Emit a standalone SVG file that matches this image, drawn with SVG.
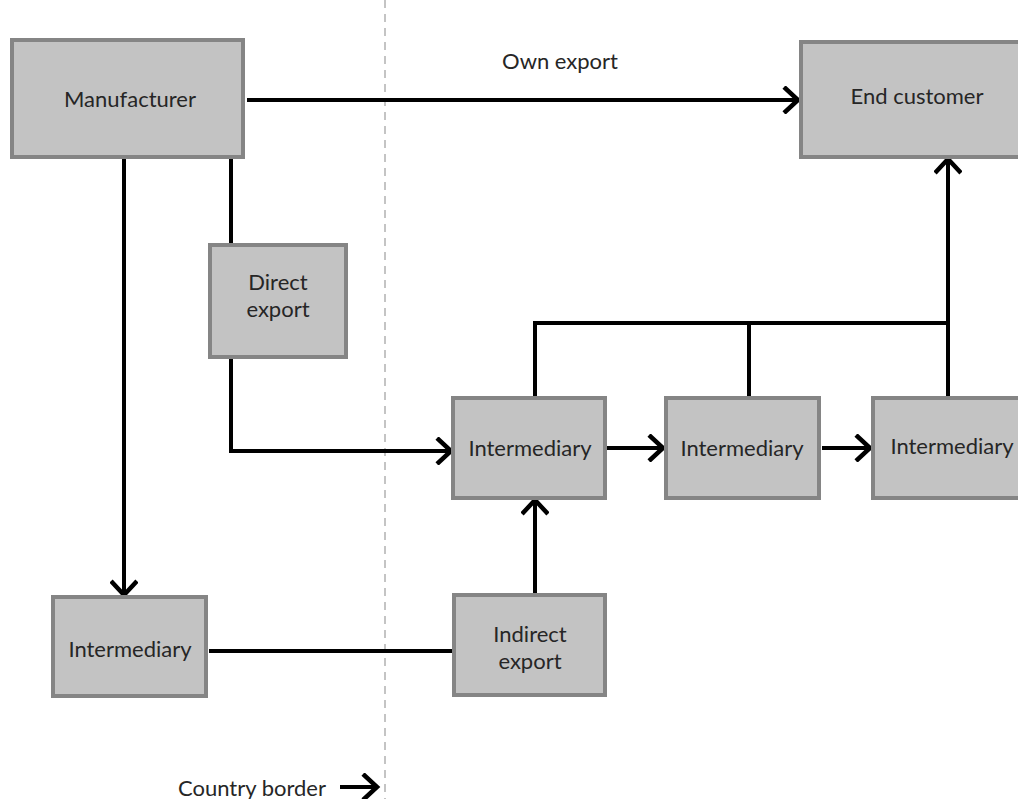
<svg xmlns="http://www.w3.org/2000/svg" width="1018" height="799" viewBox="0 0 1018 799">
<defs>
<style>
.box{fill:#c3c3c3;stroke:#858585;stroke-width:4}
.t{font-family:Lato,"Open Sans","Noto Sans",sans-serif;font-size:22px;fill:#262626;text-anchor:middle;dominant-baseline:central}
.c{fill:none;stroke:#000;stroke-width:4;stroke-linecap:butt;stroke-linejoin:miter}
.border{stroke:#c4c4c4;stroke-width:2;stroke-dasharray:8 6}
</style>
<marker id="ah" viewBox="-20 -14 24 28" markerWidth="24" markerHeight="28" refX="0" refY="0" orient="auto" markerUnits="userSpaceOnUse">
<path d="M-15,-13 L-1,0 L-15,13" fill="none" stroke="#000" stroke-width="4.5"/>
</marker>
</defs>
<rect width="1018" height="799" fill="#fff"/>
<line class="border" x1="385" y1="0" x2="385" y2="799"/>
<g id="connectors">
<line class="c" x1="247" y1="100" x2="799" y2="100" marker-end="url(#ah)"/>
<line class="c" x1="124" y1="157" x2="124" y2="596" marker-end="url(#ah)"/>
<line class="c" x1="231" y1="157" x2="231" y2="245"/>
<polyline class="c" points="231,357 231,451 452,451" marker-end="url(#ah)"/>
<line class="c" x1="607" y1="448" x2="664" y2="448" marker-end="url(#ah)"/>
<line class="c" x1="822" y1="448" x2="871" y2="448" marker-end="url(#ah)"/>
<line class="c" x1="209" y1="651" x2="453" y2="651"/>
<line class="c" x1="535" y1="595" x2="535" y2="499" marker-end="url(#ah)"/>
<polyline class="c" points="535,398 535,323 948,323"/>
<line class="c" x1="749" y1="323" x2="749" y2="398"/>
<line class="c" x1="948" y1="398" x2="948" y2="158" marker-end="url(#ah)"/>
<line class="c" x1="340" y1="787" x2="378" y2="787" marker-end="url(#ah)"/>
</g>
<g id="manufacturer"><rect class="box" x="12" y="40" width="231" height="117"/><text class="t" x="130" y="98">Manufacturer</text></g>
<g id="end-customer"><rect class="box" x="801" y="42" width="230" height="115"/><text class="t" x="917" y="95">End customer</text></g>
<g id="direct-export"><rect class="box" x="210" y="245" width="136" height="112"/><text class="t" x="278" y="281">Direct</text><text class="t" x="278" y="308">export</text></g>
<g id="intermediary-1"><rect class="box" x="453" y="398" width="152" height="100"/><text class="t" x="530" y="447">Intermediary</text></g>
<g id="intermediary-2"><rect class="box" x="666" y="398" width="153" height="100"/><text class="t" x="742" y="447">Intermediary</text></g>
<g id="intermediary-3"><rect class="box" x="873" y="398" width="160" height="100"/><text class="t" x="952" y="445">Intermediary</text></g>
<g id="intermediary-4"><rect class="box" x="53" y="597" width="153" height="99"/><text class="t" x="130" y="648">Intermediary</text></g>
<g id="indirect-export"><rect class="box" x="454" y="595" width="151" height="100"/><text class="t" x="530" y="633">Indirect</text><text class="t" x="530" y="660">export</text></g>
<text class="t" x="560" y="60">Own export</text>
<text class="t" x="252" y="787">Country border</text>
</svg>
